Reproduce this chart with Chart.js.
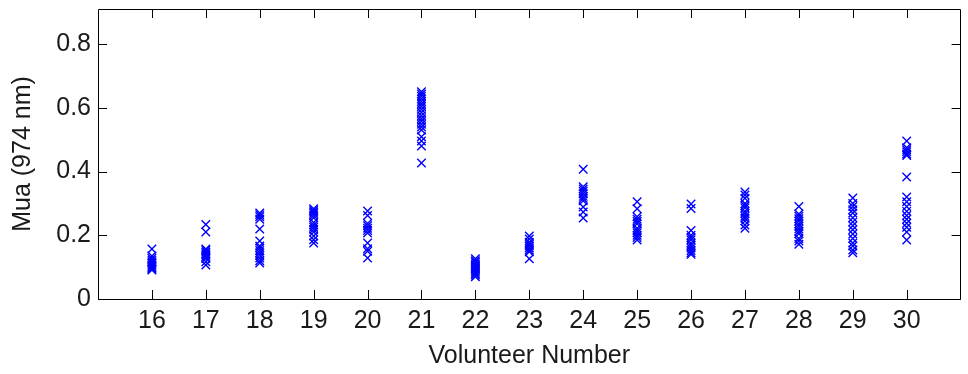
<!DOCTYPE html>
<html>
<head>
<meta charset="utf-8">
<script src="https://cdn.jsdelivr.net/npm/chart.js@4/dist/chart.umd.min.js"></script>
<style>
html,body{margin:0;padding:0;background:#fff;}
#wrap{width:968px;height:374px;position:relative;}
</style>
</head>
<body>
<div id="wrap"><canvas id="c" width="968" height="374"></canvas></div>
<script>
const volunteers = [16,17,18,19,20,21,22,23,24,25,26,27,28,29,30];
const yTickValues = [0, 0.2, 0.4, 0.6, 0.8];
const yTickLabels = ["0", "0.2", "0.4", "0.6", "0.8"];
const xLabel = "Volunteer Number";
const yLabel = "Mua (974 nm)";

const mua16 = [0.157,0.135,0.128,0.122,0.117,0.112,0.107,0.102,0.098,0.094,0.091];
const mua17 = [0.234,0.21,0.157,0.152,0.147,0.142,0.137,0.132,0.127,0.117,0.107];
const mua18 = [0.27,0.264,0.258,0.25,0.22,0.182,0.166,0.16,0.152,0.145,0.137,0.129,0.12,0.113];
const mua19 = [0.283,0.278,0.273,0.268,0.262,0.255,0.24,0.232,0.225,0.218,0.21,0.198,0.186,0.176];
const mua20 = [0.276,0.262,0.237,0.23,0.222,0.215,0.207,0.176,0.158,0.15,0.129];
const mua21 = [0.65,0.643,0.636,0.628,0.62,0.612,0.604,0.595,0.585,0.575,0.566,0.558,0.548,0.54,0.53,0.509,0.496,0.48,0.427];
const mua22 = [0.126,0.12,0.115,0.11,0.105,0.1,0.095,0.09,0.085,0.08,0.075,0.07];
const mua23 = [0.198,0.188,0.178,0.172,0.166,0.16,0.154,0.148,0.126];
const mua24 = [0.407,0.352,0.345,0.338,0.33,0.322,0.315,0.308,0.289,0.273,0.254];
const mua25 = [0.305,0.283,0.258,0.25,0.243,0.236,0.222,0.215,0.208,0.2,0.193,0.185];
const mua26 = [0.298,0.284,0.215,0.2,0.193,0.186,0.175,0.168,0.16,0.152,0.145,0.14];
const mua27 = [0.336,0.326,0.316,0.3,0.293,0.286,0.275,0.268,0.26,0.253,0.245,0.232,0.222];
const mua28 = [0.29,0.267,0.26,0.252,0.245,0.235,0.228,0.22,0.212,0.205,0.19,0.182,0.172];
const mua29 = [0.317,0.3,0.29,0.28,0.27,0.255,0.242,0.23,0.217,0.204,0.19,0.176,0.166,0.154,0.145];
const mua30 = [0.496,0.475,0.468,0.462,0.455,0.45,0.383,0.32,0.305,0.29,0.275,0.262,0.25,0.238,0.225,0.21,0.185];

const muaByVolunteer = [mua16,mua17,mua18,mua19,mua20,mua21,mua22,mua23,mua24,mua25,mua26,mua27,mua28,mua29,mua30];

const points = [];
volunteers.forEach((v, i) => muaByVolunteer[i].forEach(m => points.push({x: v, y: m})));

const FONT = {family: "'Liberation Sans', Arial, sans-serif", size: 25};
const TEXT = '#1a1a1a';

const framePlugin = {
  id: 'frame',
  afterDatasetsDraw(chart) {
    const {ctx, chartArea: a, scales: {x, y}} = chart;
    ctx.save();
    ctx.strokeStyle = '#000';
    ctx.lineWidth = 1;
    ctx.beginPath();
    ctx.rect(Math.round(a.left) + 0.5, Math.round(a.top) + 0.5, Math.round(a.right - a.left) - 1, Math.round(a.bottom - a.top));
    ctx.stroke();
    const tl = 9;
    ctx.beginPath();
    x.ticks.forEach(t => {
      const px = Math.round(x.getPixelForValue(t.value)) + 0.5;
      ctx.moveTo(px, a.bottom); ctx.lineTo(px, a.bottom - tl);
      ctx.moveTo(px, a.top); ctx.lineTo(px, a.top + tl);
    });
    y.ticks.forEach(t => {
      const py = Math.round(y.getPixelForValue(t.value)) + 0.5;
      ctx.moveTo(a.left, py); ctx.lineTo(a.left + tl, py);
      ctx.moveTo(a.right, py); ctx.lineTo(a.right - tl, py);
    });
    ctx.stroke();
    ctx.restore();
  }
};

new Chart(document.getElementById('c'), {
  type: 'scatter',
  data: {
    datasets: [{
      data: points,
      pointStyle: 'crossRot',
      pointRadius: 6,
      pointHoverRadius: 6,
      pointBorderWidth: 1.4,
      borderColor: '#0000ff',
      backgroundColor: '#0000ff',
      showLine: false
    }]
  },
  options: {
    responsive: false,
    animation: false,
    devicePixelRatio: 1,
    layout: {padding: {left: 0, top: 9, right: 1, bottom: 0}},
    plugins: {legend: {display: false}, tooltip: {enabled: false}},
    scales: {
      x: {
        type: 'linear',
        min: 15, max: 31,
        grid: {display: false, drawTicks: false},
        border: {display: false},
        afterBuildTicks: s => { s.ticks = volunteers.map(v => ({value: v})); },
        afterFit: s => { s.height = 75; s.paddingLeft = 0; s.paddingRight = 0; },
        ticks: {padding: 7, font: FONT, color: TEXT, autoSkip: false, maxRotation: 0,
                callback: v => String(v)},
        title: {display: true, text: xLabel, font: FONT, color: TEXT, padding: {top: 0, bottom: 3}}
      },
      y: {
        type: 'linear',
        min: 0, max: 0.91,
        grid: {display: false, drawTicks: false},
        border: {display: false},
        afterBuildTicks: s => { s.ticks = yTickValues.map(v => ({value: v})); },
        afterFit: s => { s.width = 98; s.paddingTop = 0; s.paddingBottom = 0; },
        ticks: {padding: 7, font: FONT, color: TEXT,
                callback: (v) => { const i = yTickValues.indexOf(v); return i >= 0 ? yTickLabels[i] : ''; }},
        title: {display: true, text: yLabel, font: FONT, color: TEXT, padding: {top: 8, bottom: 0}}
      }
    }
  },
  plugins: [framePlugin]
});
</script>
</body>
</html>
